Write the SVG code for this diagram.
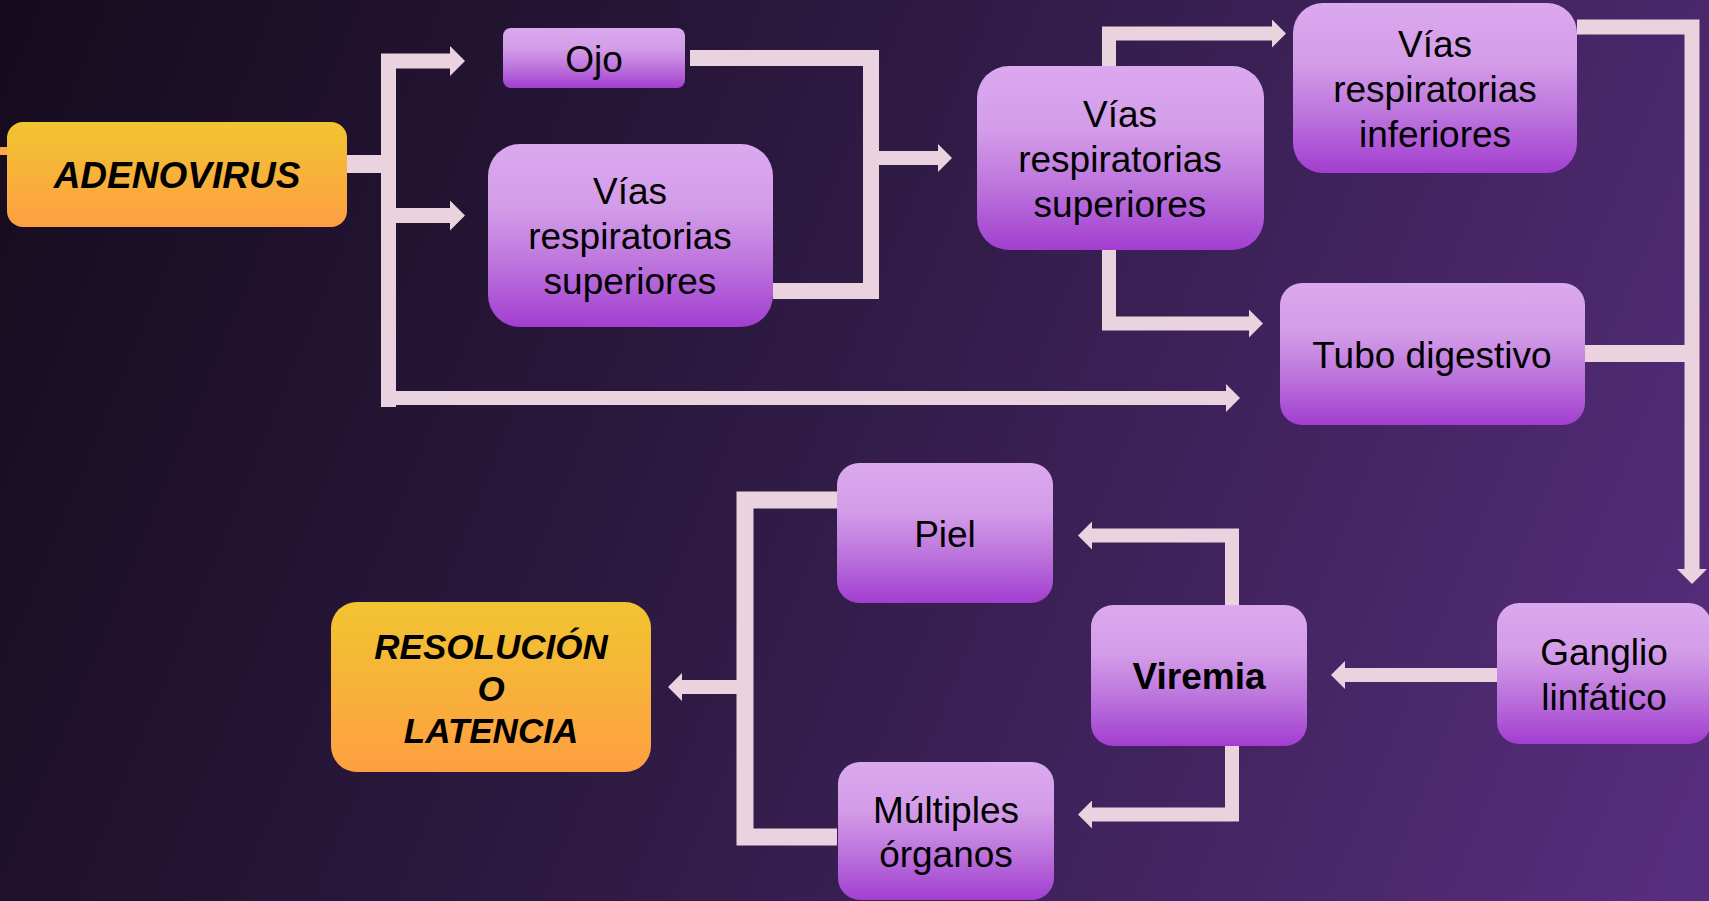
<svg xmlns="http://www.w3.org/2000/svg" width="1709" height="901" viewBox="0 0 1709 901">
<defs>
<linearGradient id="bg" gradientUnits="userSpaceOnUse" x1="0" y1="100" x2="1709" y2="801">
<stop offset="0" stop-color="#160c1e"/>
<stop offset="0.45" stop-color="#2e1a43"/>
<stop offset="1" stop-color="#572d7d"/>
</linearGradient>
<linearGradient id="gp" x1="0" y1="0" x2="0" y2="1">
<stop offset="0" stop-color="#dba9ef"/>
<stop offset="0.35" stop-color="#d39ce8"/>
<stop offset="0.65" stop-color="#bd75dd"/>
<stop offset="1" stop-color="#a23ed0"/>
</linearGradient>
<linearGradient id="go" x1="0" y1="0" x2="0" y2="1">
<stop offset="0" stop-color="#f1c431"/>
<stop offset="1" stop-color="#fe9f42"/>
</linearGradient>
<marker id="ah" viewBox="0 0 1 2" refX="0" refY="1" markerWidth="1" markerHeight="2" markerUnits="strokeWidth" orient="auto">
<path d="M0,0 L1,1 L0,2 z" fill="#ead3de"/>
</marker>
</defs>
<style>
.c{fill:none;stroke:#ead3de;stroke-linejoin:miter;stroke-linecap:butt}
.p{fill:url(#gp)}
.o{fill:url(#go)}
.t{font-family:"Liberation Sans",Arial,sans-serif;font-size:37px;fill:#000;text-anchor:middle}
.b{font-weight:bold}
.bi{font-weight:bold;font-style:italic}
</style>
<rect x="0" y="0" width="1709" height="901" fill="url(#bg)"/>
<rect x="0" y="147" width="8" height="8" fill="#f9a94a"/>
<g id="connectors">
<path class="c" stroke-width="18" d="M347,164 H388"/>
<path class="c" stroke-width="15" d="M388.5,407 V61 H450" marker-end="url(#ah)"/>
<path class="c" stroke-width="15" d="M388.5,215.5 H450" marker-end="url(#ah)"/>
<path class="c" stroke-width="14" d="M388.5,398 H1226" marker-end="url(#ah)"/>
<path class="c" stroke-width="16" d="M690,58 H871 V291 H773"/>
<path class="c" stroke-width="14" d="M871,158 H938" marker-end="url(#ah)"/>
<path class="c" stroke-width="14" d="M1109,66 V33.5 H1272" marker-end="url(#ah)"/>
<path class="c" stroke-width="14" d="M1109,250 V323.5 H1249" marker-end="url(#ah)"/>
<path class="c" stroke-width="15" d="M1577,27 H1692 V569" marker-end="url(#ah)"/>
<path class="c" stroke-width="17" d="M1585,353.5 H1692"/>
<path class="c" stroke-width="14" d="M1497,675 H1345" marker-end="url(#ah)"/>
<path class="c" stroke-width="14" d="M1232,605 V535.5 H1092" marker-end="url(#ah)"/>
<path class="c" stroke-width="14" d="M1232,746 V814.5 H1092" marker-end="url(#ah)"/>
<path class="c" stroke-width="17" d="M837,500 H745 V837 H837"/>
<path class="c" stroke-width="14" d="M745,687 H682" marker-end="url(#ah)"/>
</g>
<g id="adenovirus">
<rect class="o" x="7" y="122" width="340" height="105" rx="16"/>
<text class="t bi" x="177" y="188">ADENOVIRUS</text>
</g>
<g id="ojo">
<rect class="p" x="503" y="28" width="182" height="60" rx="8"/>
<text class="t" x="594" y="72">Ojo</text>
</g>
<g id="vias-sup-1">
<rect class="p" x="488" y="144" width="285" height="183" rx="32"/>
<text class="t" x="630" y="204">Vías</text>
<text class="t" x="630" y="249">respiratorias</text>
<text class="t" x="630" y="294">superiores</text>
</g>
<g id="vias-sup-2">
<rect class="p" x="977" y="66" width="287" height="184" rx="32"/>
<text class="t" x="1120" y="127">Vías</text>
<text class="t" x="1120" y="172">respiratorias</text>
<text class="t" x="1120" y="217">superiores</text>
</g>
<g id="vias-inf">
<rect class="p" x="1293" y="3" width="284" height="170" rx="30"/>
<text class="t" x="1435" y="57">Vías</text>
<text class="t" x="1435" y="102">respiratorias</text>
<text class="t" x="1435" y="147">inferiores</text>
</g>
<g id="tubo">
<rect class="p" x="1280" y="283" width="305" height="142" rx="22"/>
<text class="t" x="1432" y="368">Tubo digestivo</text>
</g>
<g id="ganglio">
<rect class="p" x="1497" y="603" width="214" height="141" rx="22"/>
<text class="t" x="1604" y="665">Ganglio</text>
<text class="t" x="1604" y="710">linfático</text>
</g>
<g id="viremia">
<rect class="p" x="1091" y="605" width="216" height="141" rx="22"/>
<text class="t b" x="1199" y="689">Viremia</text>
</g>
<g id="piel">
<rect class="p" x="837" y="463" width="216" height="140" rx="22"/>
<text class="t" x="945" y="547">Piel</text>
</g>
<g id="multiples">
<rect class="p" x="838" y="762" width="216" height="138" rx="22"/>
<text class="t" x="946" y="823">Múltiples</text>
<text class="t" x="946" y="867">órganos</text>
</g>
<g id="resolucion">
<rect class="o" x="331" y="602" width="320" height="170" rx="26"/>
<text class="t bi" x="491" y="659" style="font-size:35px">RESOLUCIÓN</text>
<text class="t bi" x="491" y="701" style="font-size:35px">O</text>
<text class="t bi" x="491" y="743" style="font-size:35px">LATENCIA</text>
</g>
</svg>
